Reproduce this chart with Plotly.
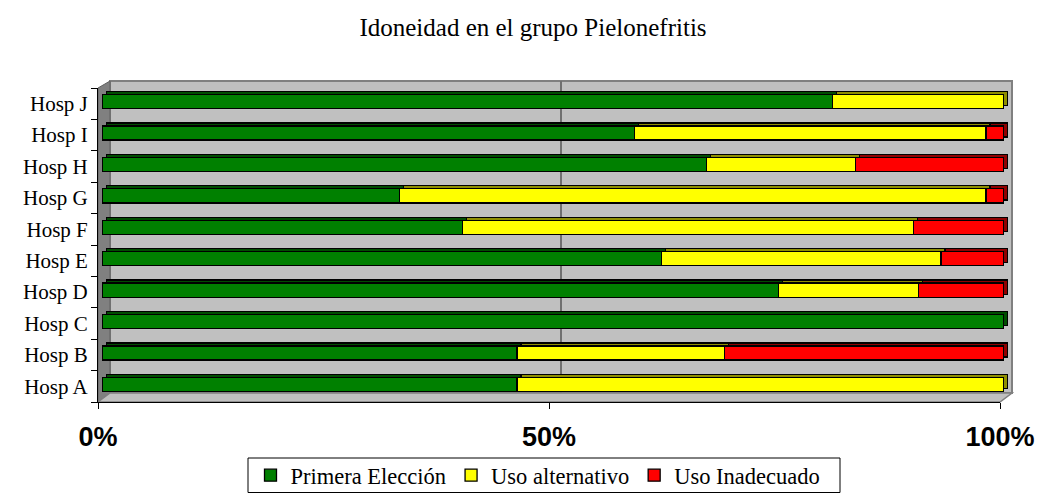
import plotly.graph_objects as go

# ---------------- data ----------------
hospitals = ["Hosp A", "Hosp B", "Hosp C", "Hosp D", "Hosp E",
             "Hosp F", "Hosp G", "Hosp H", "Hosp I", "Hosp J"]
primera = [46, 46, 100, 75, 62, 40, 33, 67, 59, 81]
alternativo = [54, 23, 0, 15.5, 31, 50, 65, 16.5, 39, 19]
inadecuado = [0, 31, 0, 9.5, 7, 10, 2, 16.5, 2, 0]
series_names = ["Primera Elección", "Uso alternativo", "Uso Inadecuado"]
x_tick_vals = [0, 50, 100]
x_tick_text = ["0%", "50%", "100%"]
title_text = "Idoneidad en el grupo Pielonefritis"

front_colors = ["#008000", "#FFFF00", "#FF0000"]
top_colors = ["#004d00", "#8f8f00", "#8f0000"]

SERIF = "Liberation Serif, Times New Roman, serif"
SANS = "Liberation Sans, Arial, sans-serif"

# ---------------- geometry helpers (pixels -> paper) ----------------
W, H = 1041, 493
L, R, T, B = 98, 29, 80, 91
PW = W - L - R
PH = H - T - B


def px(x):
    return (x - L) / PW


def py(y):
    return (H - B - y) / PH


series = [primera, alternativo, inadecuado]
ypos = list(range(len(hospitals)))

fig = go.Figure()

# back copy (gives the 3D top / side faces)
for vals, name, col in zip(series, series_names, top_colors):
    fig.add_trace(go.Bar(
        x=[v if v else None for v in vals], y=ypos, orientation="h",
        marker=dict(color=col, line=dict(color="black", width=1.3)),
        width=0.45, showlegend=False, hoverinfo="skip",
        xaxis="x", yaxis="y"))

# front faces
for vals, name, col in zip(series, series_names, front_colors):
    fig.add_trace(go.Bar(
        x=[v if v else None for v in vals], y=ypos, orientation="h", name=name,
        marker=dict(color=col, line=dict(color="black", width=1.3)),
        width=0.45, xaxis="x2", yaxis="y2"))

# invisible trace for the visible front axes
fig.add_trace(go.Scatter(x=[None], y=[None], xaxis="x3", yaxis="y3",
                         showlegend=False, hoverinfo="skip"))

hidden = dict(visible=False, showgrid=False, zeroline=False, fixedrange=True)

shapes = [
    # back wall
    dict(type="rect", xref="paper", yref="paper", layer="below",
         x0=px(110), x1=px(1012), y0=py(393), y1=py(81),
         fillcolor="#C0C0C0", line=dict(color="#808080", width=2)),
    # 50% gridline on back wall
    dict(type="line", xref="paper", yref="paper", layer="below",
         x0=px(561), x1=px(561), y0=py(393), y1=py(81),
         line=dict(color="#707070", width=2)),
    # left wall
    dict(type="path", xref="paper", yref="paper", layer="below",
         path=f"M {px(98)},{py(88)} L {px(110)},{py(81)} L {px(110)},{py(393)} L {px(98)},{py(402)} Z",
         fillcolor="#808080", line=dict(color="#606060", width=1)),
    # floor
    dict(type="path", xref="paper", yref="paper", layer="below",
         path=f"M {px(98)},{py(402)} L {px(110)},{py(393)} L {px(1012)},{py(393)} L {px(1000)},{py(402)} Z",
         fillcolor="#C0C0C0", line=dict(color="#808080", width=1.5)),
    # legend frame
    dict(type="rect", xref="paper", yref="paper", layer="above",
         x0=px(248), x1=px(840), y0=py(492.5), y1=py(458),
         fillcolor="rgba(0,0,0,0)", line=dict(color="black", width=1)),
]

fig.update_layout(
    width=W, height=H,
    margin=dict(l=L, r=R, t=T, b=B, autoexpand=False),
    paper_bgcolor="white", plot_bgcolor="rgba(0,0,0,0)",
    barmode="stack", bargap=0.55,
    font=dict(family=SERIF, color="black"),
    title=dict(text=title_text, x=533 / W, xanchor="center", y=1 - 27 / H, yanchor="middle",
               font=dict(family=SERIF, size=25, color="black")),
    xaxis=dict(domain=[px(106), px(1008)], range=[0, 100], anchor="y", **hidden),
    yaxis=dict(domain=[py(397.2), py(82.8)], range=[-0.5, 9.5], anchor="x", **hidden),
    xaxis2=dict(domain=[px(102), px(1004)], range=[0, 100], anchor="y2", **hidden),
    yaxis2=dict(domain=[py(400.2), py(85.8)], range=[-0.5, 9.5], anchor="x2", **hidden),
    xaxis3=dict(domain=[0, px(1000)], range=[0, 100], anchor="y3",
                showline=True, linecolor="black", linewidth=1,
                ticks="outside", ticklen=6, tickcolor="black", tickwidth=1,
                tickvals=x_tick_vals, ticktext=x_tick_text,
                tickfont=dict(family=SANS, size=27, color="black", weight="bold"),
                ticklabelstandoff=5,
                showgrid=False, zeroline=False, fixedrange=True),
    yaxis3=dict(domain=[0, py(88)], range=[-0.5, 9.5], anchor="x3",
                showline=True, linecolor="black", linewidth=1,
                tickvals=ypos, ticktext=hospitals, ticks="",
                minor=dict(tickvals=[i - 0.5 for i in range(len(hospitals) + 1)],
                           ticks="outside", ticklen=6, tickcolor="black", tickwidth=1),
                tickfont=dict(family=SERIF, size=21, color="black"),
                ticklabelstandoff=5,
                showgrid=False, zeroline=False, fixedrange=True),
    legend=dict(orientation="h", xref="container", yref="container",
                x=538 / W, xanchor="center", y=1 - 454 / H, yanchor="top",
                borderwidth=0, bgcolor="rgba(0,0,0,0)",
                font=dict(family=SERIF, size=22.5, color="black"),
                traceorder="normal"),
    shapes=shapes,
)

fig.write_html("out.html", config={"displayModeBar": False},
               post_script="document.body.style.margin='0';document.body.style.overflow='hidden';")
